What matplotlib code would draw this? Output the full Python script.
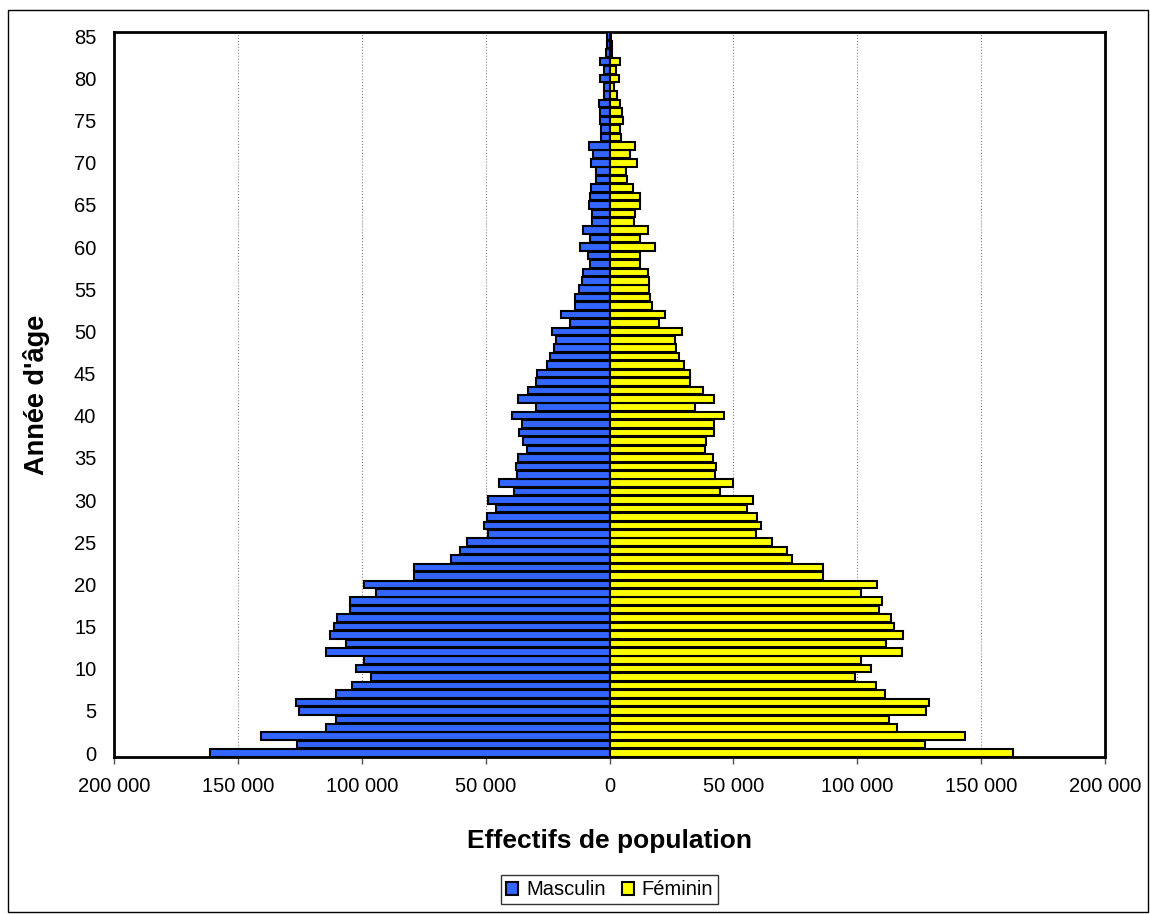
import numpy as np
import matplotlib.pyplot as plt
from matplotlib.patches import Rectangle
from matplotlib.ticker import FuncFormatter

plt.rcParams['font.family'] = ['Liberation Sans', 'DejaVu Sans']

# age 0 .. 85
ages = np.arange(86)

masculin = [
    161300, 126100, 140900, 114600, 110600, 125400, 126500, 110400, 103900, 96200,
    102600, 99300, 114600, 106300, 113000, 111300, 110000, 105000, 104700, 94200,
    99200, 79000, 78800, 64000, 60600, 57400, 49100, 50900, 49500, 45800,
    49300, 38400, 44600, 37500, 37900, 37000, 33300, 35000, 36400, 35500,
    39500, 29700, 36800, 32800, 29700, 29400, 25300, 24200, 22400, 21500,
    23400, 16000, 19500, 14100, 14000, 12500, 11200, 10600, 8100, 8600,
    12100, 8100, 10800, 7000, 7100, 8300, 7800, 7500, 5400, 5600,
    7400, 6500, 8300, 3500, 3500, 3800, 3900, 4200, 2400, 2400,
    3800, 2400, 3800, 1600, 1100, 900,
]

feminin = [
    162800, 127300, 143400, 116000, 112900, 127800, 129000, 111200, 107700, 99200,
    105500, 101500, 118300, 111700, 118700, 115000, 113700, 108900, 110000, 101500,
    108100, 86300, 86300, 73800, 71600, 65500, 59000, 61000, 59500, 55500,
    57900, 44500, 50000, 42700, 43100, 41700, 38600, 39000, 42200, 42100,
    46100, 34500, 42100, 37600, 32600, 32500, 30200, 28200, 26700, 26300,
    29400, 19800, 22300, 17100, 16400, 15900, 16100, 15500, 12100, 12400,
    18300, 12100, 15600, 9700, 10100, 12400, 12400, 9500, 7000, 6700,
    11000, 8100, 10400, 4800, 4400, 5400, 5100, 4300, 3000, 1900,
    4000, 2700, 4300, 1000, 800, 700,
]

xticks = np.arange(-200000, 200001, 50000)
yticks = np.arange(0, 86, 5)

fig = plt.figure(figsize=(11.5, 9.14), dpi=100)
ax = fig.add_axes([0.0995, 0.1715, 0.8611, 0.7935])

ax.barh(ages, -np.array(masculin), height=0.9, color='#3366FF',
        edgecolor='black', linewidth=1.5, label='Masculin', zorder=3)
ax.barh(ages, feminin, height=0.9, color='#FFFF00',
        edgecolor='black', linewidth=1.5, label='Féminin', zorder=3)

ax.set_xlim(-200000, 200000)
ax.set_ylim(-0.5, 85.5)
ax.set_xticks(xticks)
ax.set_yticks(yticks)
ax.xaxis.set_major_formatter(
    FuncFormatter(lambda v, p: f"{abs(int(v)):,}".replace(",", " ")))
ax.tick_params(axis='x', length=5, width=1, color='#555555',
               labelsize=14.5, pad=9)
ax.tick_params(axis='y', length=0, labelsize=14.5, pad=13)

ax.grid(axis='x', color='#888888', linestyle=':', linewidth=0.8, zorder=0)
for s in ax.spines.values():
    s.set_linewidth(2)

ax.set_xlabel("Effectifs de population", fontsize=19, fontweight='bold',
              labelpad=24)
ax.set_ylabel("Année d'âge", fontsize=19.5, fontweight='bold', labelpad=17)

leg = ax.legend(loc='upper center', bbox_to_anchor=(0.5, -0.149), ncol=2,
                fontsize=14.5, frameon=True, fancybox=False, edgecolor='black',
                handlelength=0.6, handleheight=0.6, handletextpad=0.4,
                columnspacing=0.8, borderpad=0.25)
leg.get_frame().set_linewidth(1)

fig.patches.append(Rectangle((8 / 1150, 2 / 914), 1140 / 1150, 902 / 914,
                             transform=fig.transFigure, fill=False,
                             edgecolor='black', linewidth=1))

fig.savefig("out.png", dpi=100)
